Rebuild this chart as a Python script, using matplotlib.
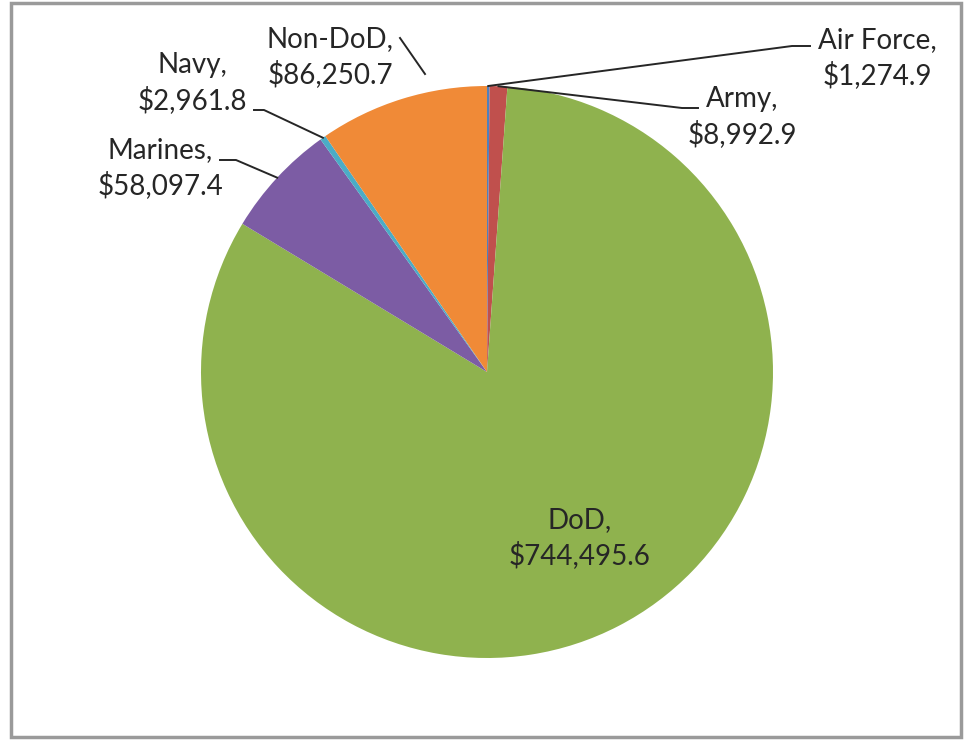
import numpy as np
import matplotlib.pyplot as plt
from matplotlib.patches import Rectangle

labels = ['Air Force', 'Army', 'DoD', 'Marines', 'Navy', 'Non-DoD']
values = [1274.9, 8992.9, 744495.6, 58097.4, 2961.8, 86250.7]
colors = ['#4F81BD', '#C0504D', '#8FB24E', '#7C5CA4', '#4BACC6', '#F08A37']

# label text centres (pixel space, y from top)
label_pos = {
    'Air Force': (877, 58),
    'Army': (742, 117),
    'DoD': (580, 538),
    'Marines': (160, 168),
    'Navy': (192, 83),
    'Non-DoD': (330, 57),
}
# leader lines: label-side end, short horizontal stub length (signed)
leader_end = {
    'Air Force': ((810, 46), -18),
    'Army': ((698, 108), -16),
    'Marines': ((220, 160), 16),
    'Navy': ((254, 110), 10),
    'Non-DoD': ((400, 38), 0),
}

W, H = 965, 740
fig = plt.figure(figsize=(W / 100, H / 100), dpi=100)
ax = fig.add_axes([0, 0, 1, 1])

cx, cy, r = 487, H - 372, 286
wedges, _ = ax.pie(values, colors=colors, startangle=90, counterclock=False,
                   center=(cx, cy), radius=r, frame=True,
                   wedgeprops=dict(linewidth=0))
ax.set_xlim(0, W)
ax.set_ylim(0, H)
ax.set_aspect('equal')
ax.axis('off')

# chart border
ax.add_patch(Rectangle((11, 3), 950, 734, fill=False, edgecolor='#9a9a9a', lw=2.5))

font = ['Lato', 'DejaVu Sans']
for w, lab, val in zip(wedges, labels, values):
    px, py = label_pos[lab]
    ax.text(px, H - py, f'{lab},\n${val:,.1f}', ha='center', va='center',
            fontsize=20, family=font, color='#262626', linespacing=1.35)
    if lab in leader_end:
        (ex, ey), stub = leader_end[lab]
        ey = H - ey
        if lab == 'Non-DoD':
            # short leader that stops above the slice
            sx, sy = 425, H - 74
        else:
            ang = np.deg2rad((w.theta1 + w.theta2) / 2)
            sx, sy = cx + r * np.cos(ang), cy + r * np.sin(ang)
        ax.plot([sx, ex + stub, ex], [sy, ey, ey], color='#262626', lw=1.4)

fig.savefig('out.png', dpi=100)
